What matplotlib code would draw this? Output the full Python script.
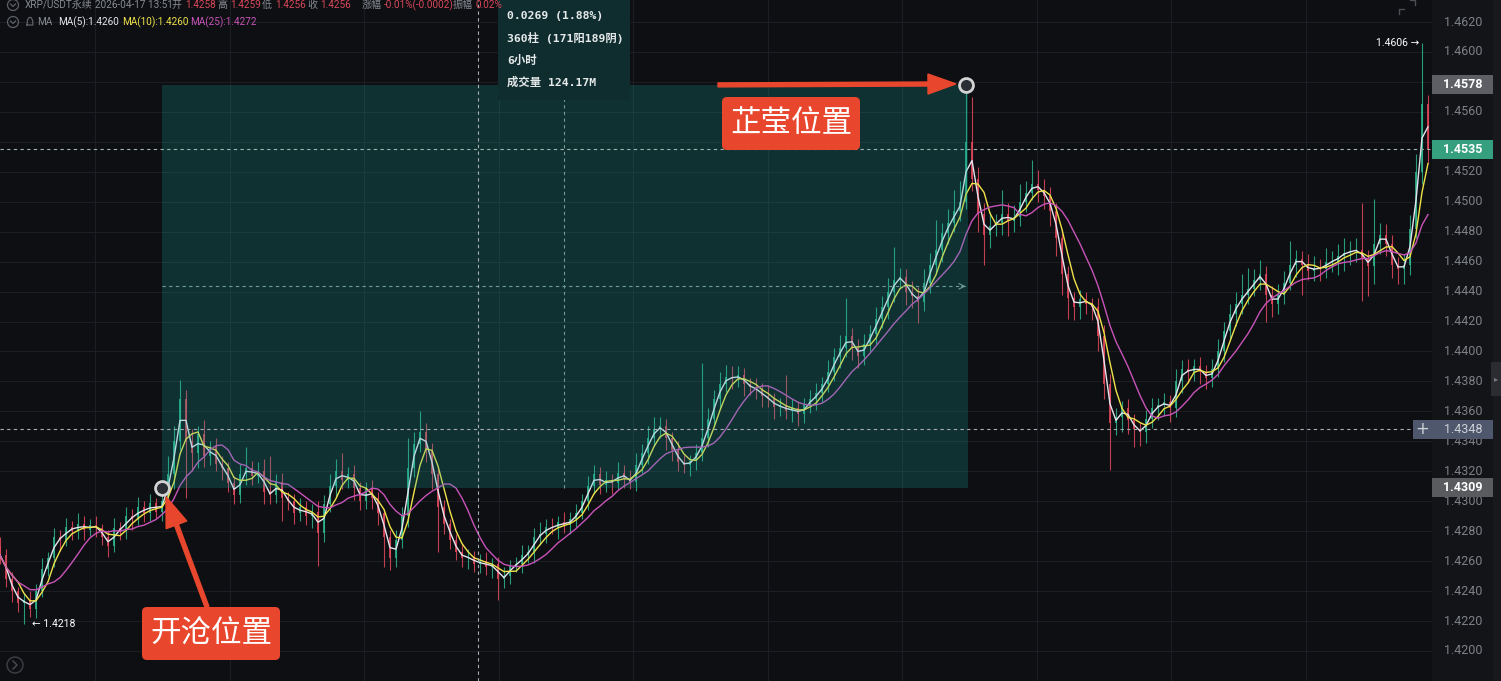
import numpy as np
import pandas as pd
import matplotlib
matplotlib.use("Agg")
import matplotlib.pyplot as plt
from matplotlib.patches import Rectangle, FancyBboxPatch, Circle, FancyArrow
from matplotlib.transforms import Affine2D

plt.rcParams['font.family'] = ['Roboto', 'Noto Sans CJK SC', 'DejaVu Sans']

# ---------------- data (prices in pips above 1.4000) ----------------
BASE = 1.4000
PIP = 0.0001
first_open = 270
close_pips = [
    264, 248, 240, 232, 234, 228, 240, 255, 262, 276,
    274, 283, 280, 285, 281, 284, 282, 276, 270, 282,
    280, 290, 288, 296, 292, 299, 293, 300, 318, 340,
    368, 340, 332, 345, 330, 336, 325, 322, 312, 304,
    318, 322, 317, 320, 306, 304, 313, 302, 300, 292,
    296, 290, 293, 279, 298, 310, 320, 314, 318, 309,
    300, 308, 302, 292, 276, 262, 274, 290, 322, 338,
    346, 334, 318, 296, 285, 274, 266, 262, 263, 258,
    260, 256, 258, 248, 250, 257, 258, 264, 266, 276,
    278, 283, 282, 286, 284, 288, 292, 300, 310, 318,
    311, 314, 312, 319, 315, 313, 324, 332, 342, 348,
    350, 342, 334, 326, 324, 327, 332, 342, 355, 368,
    378, 383, 382, 384, 378, 376, 374, 370, 368, 363,
    364, 360, 362, 358, 364, 368, 372, 378, 386, 396,
    402, 410, 403, 397, 405, 412, 422, 430, 440, 448,
    450, 440, 437, 433, 446, 458, 468, 479, 486, 494,
    500, 540, 515, 492, 478, 484, 486, 492, 487, 490,
    500, 506, 512, 508, 504, 494, 476, 452, 436, 430,
    435, 432, 430, 410, 378, 352, 356, 362, 354, 348,
    346, 355, 362, 364, 366, 362, 380, 388, 386, 390,
    386, 382, 388, 400, 414, 425, 432, 438, 442, 448,
    452, 438, 432, 438, 446, 458, 462, 458, 454, 456,
    455, 460, 460, 464, 466, 467, 468, 462, 457, 472,
    478, 472, 458, 455, 458, 482, 520, 565, 535,
]
upper_wick = [
    6, 4, 5, 3, 4, 6, 5, 7, 4, 6,
    5, 6, 4, 7, 5, 4, 6, 3, 5, 7,
    4, 6, 5, 7, 4, 6, 3, 9, 12, 10,
    13, 6, 8, 5, 9, 4, 6, 5, 4, 5,
    7, 14, 5, 6, 8, 24, 5, 6, 4, 5,
    6, 4, 5, 7, 6, 8, 8, 12, 5, 6,
    4, 5, 6, 4, 3, 5, 7, 6, 20, 8,
    14, 6, 5, 4, 5, 3, 4, 6, 5, 4,
    5, 6, 4, 5, 6, 4, 5, 7, 5, 6,
    8, 5, 6, 4, 7, 5, 6, 5, 7, 6,
    5, 6, 4, 7, 5, 6, 8, 6, 8, 8,
    6, 5, 4, 6, 5, 4, 6, 50, 7, 6,
    8, 8, 7, 6, 5, 4, 6, 5, 7, 4,
    5, 20, 6, 4, 5, 6, 7, 5, 8, 6,
    9, 26, 6, 5, 7, 6, 8, 7, 9, 22,
    6, 5, 7, 6, 9, 8, 20, 7, 9, 14,
    14, 38, 30, 8, 7, 9, 6, 16, 7, 8,
    12, 8, 16, 9, 7, 6, 5, 6, 5, 4,
    6, 5, 4, 6, 8, 7, 6, 5, 6, 4,
    5, 6, 7, 5, 6, 5, 8, 6, 7, 5,
    6, 5, 7, 8, 6, 7, 8, 14, 14, 7,
    9, 5, 6, 7, 8, 16, 6, 5, 7, 8,
    6, 9, 7, 8, 10, 7, 8, 31, 6, 30,
    8, 7, 6, 5, 7, 9, 12, 41, 6,
]
lower_wick = [
    6, 5, 7, 6, 14, 5, 6, 4, 5, 6,
    7, 4, 6, 5, 7, 4, 6, 5, 7, 4,
    6, 5, 7, 4, 6, 5, 4, 6, 8, 10,
    6, 38, 12, 10, 7, 6, 5, 8, 6, 6,
    5, 7, 6, 5, 8, 6, 5, 15, 6, 7,
    5, 6, 8, 22, 6, 5, 7, 6, 5, 8,
    6, 5, 7, 8, 20, 8, 6, 5, 7, 6,
    5, 8, 10, 30, 7, 6, 5, 6, 7, 5,
    6, 5, 7, 14, 6, 5, 4, 6, 5, 7,
    5, 6, 4, 7, 5, 6, 5, 4, 6, 5,
    6, 5, 7, 4, 6, 5, 6, 5, 7, 5,
    6, 8, 7, 6, 5, 7, 6, 5, 6, 5,
    6, 5, 7, 6, 8, 5, 6, 7, 5, 8,
    6, 5, 7, 8, 6, 5, 7, 6, 5, 6,
    7, 6, 9, 8, 6, 5, 7, 6, 8, 7,
    6, 9, 8, 14, 6, 7, 6, 8, 7, 6,
    7, 5, 8, 12, 20, 9, 7, 8, 10, 7,
    6, 7, 5, 8, 9, 10, 12, 14, 14, 9,
    8, 7, 9, 10, 10, 31, 8, 10, 9, 12,
    9, 7, 6, 8, 7, 9, 6, 8, 7, 6,
    8, 7, 6, 5, 7, 6, 8, 7, 6, 5,
    7, 18, 9, 7, 6, 5, 8, 20, 6, 7,
    8, 6, 7, 9, 10, 8, 7, 28, 20, 12,
    7, 8, 9, 10, 10, 7, 6, 8, 9,
]
assert len(close_pips) == len(upper_wick) == len(lower_wick)

price_ticks = [1.4200, 1.4220, 1.4240, 1.4260, 1.4280, 1.4300, 1.4320,
               1.4340, 1.4360, 1.4380, 1.4400, 1.4420, 1.4440, 1.4460,
               1.4480, 1.4500, 1.4520, 1.4540, 1.4560, 1.4580, 1.4600, 1.4620]
ma_names = ["MA(5)", "MA(10)", "MA(25)"]
ma_windows = [2, 4, 9]
ma_header_values = ["1.4260", "1.4260", "1.4272"]

entry_idx, exit_idx = 27, 161
entry_price, exit_price = 1.4309, 1.4578
last_price = 1.4535
cross_price = 1.4348
cross_idx = 79.7
peak_idx, peak_price = 237, 1.4606
trough_idx, trough_price = 4, 1.4218

header_items = [
    ("XRP/USDT永续", "g", 25), ("2026-04-17 13:51", "g", 95),
    ("开", "g", 172), ("1.4258", "r", 185), ("高", "g", 217), ("1.4259", "r", 230),
    ("低", "g", 262), ("1.4256", "r", 275), ("收", "g", 307), ("1.4256", "r", 320),
    ("涨幅", "g", 362), ("-0.01%(-0.0002)", "r", 384), ("振幅", "g", 453), ("0.02%", "r", 476),
]
info_lines = ["0.0269 (1.88%)", "360柱 (171阳189阴)", "6小时", "成交量 124.17M"]
label_exit = "芷莹位置"
label_entry = "开沧位置"

# ---------------- styling / geometry ----------------
W, H = 1501, 681
PX_PER_BAR = 6.0
Y_TOP_PRICE, Y_TOP_PX, PX_PER_PRICE = 1.4620, 22.0, 14976.0
CHART_RIGHT = 1432
BG = '#0e0f12'
PANEL = '#131417'
GREEN = '#2fb58c'
RED = '#e0485c'
ORANGE = '#e8472e'
GRAY = '#878b92'
HRED = '#d9485a'
MA_COLORS = ['#e4e4ee', '#efe24a', '#c853b9']

ymax = Y_TOP_PRICE + Y_TOP_PX / PX_PER_PRICE
ymin = ymax - H / PX_PER_PRICE

def px_of(i, p):
    return i * PX_PER_BAR, Y_TOP_PX + (Y_TOP_PRICE - p) * PX_PER_PRICE

fig = plt.figure(figsize=(W / 100, H / 100), dpi=100, facecolor=BG)
ax = fig.add_axes([0, 0, 1, 1])
ax.set_xlim(0, W / PX_PER_BAR)
ax.set_ylim(ymin, ymax)
ax.axis('off')
PIXT = Affine2D().scale(1, -1).translate(0, H)
xr = CHART_RIGHT / PX_PER_BAR

# grid
for p in price_ticks:
    ax.plot([0, xr], [p, p], color='#1c1e23', lw=0.8, zorder=0.5)
for k in range(10):
    gx = (95 + 134.5 * k) / PX_PER_BAR
    ax.plot([gx, gx], [ymin, ymax], color='#1c1e23', lw=0.8, zorder=0.5)

# candles
n = len(close_pips)
idx = np.arange(n)
close = BASE + np.array(close_pips) * PIP
open_ = BASE + np.array([first_open] + close_pips[:-1]) * PIP
body_top = np.maximum(open_, close)
body_bot = np.minimum(open_, close)
high = body_top + np.array(upper_wick) * PIP
low = body_bot - np.array(lower_wick) * PIP
cols = np.where(close >= open_, GREEN, RED)
ax.vlines(idx, low, high, colors=cols, linewidth=0.8, alpha=0.85, zorder=3)
ax.bar(idx, np.maximum(body_top - body_bot, 0.6 * PIP), bottom=body_bot,
       width=0.45, color=cols, alpha=0.85, linewidth=0, zorder=3)

# moving averages
s = pd.Series(close)
for win, col in zip(ma_windows, MA_COLORS):
    ax.plot(idx, s.rolling(win, min_periods=1).mean(), color=col, lw=1.0, zorder=4)

# measurement rectangle (overlay)
ax.add_patch(Rectangle((entry_idx, entry_price), exit_idx + 0.3 - entry_idx,
                       exit_price - entry_price, facecolor='#17aaa5', alpha=0.22,
                       edgecolor='none', zorder=5))
mid_p = (entry_price + exit_price) / 2
mid_i = (entry_idx + exit_idx) / 2
ax.plot([entry_idx, exit_idx], [mid_p, mid_p], color='#6f9c99', lw=0.8,
        dashes=(3, 3), zorder=6)
ax.annotate('', xy=(exit_idx + 0.4, mid_p), xytext=(exit_idx - 1.2, mid_p),
            arrowprops=dict(arrowstyle='->', color='#6f9c99', lw=0.8), zorder=6)
ax.plot([mid_i, mid_i], [entry_price, exit_price], color='#6f9c99', lw=0.8,
        dashes=(3, 3), zorder=6)

# crosshair + last price lines
ax.plot([0, 1413 / PX_PER_BAR], [cross_price, cross_price], color='#a9acb2',
        lw=0.8, dashes=(3, 3), zorder=6)
ax.plot([cross_idx, cross_idx], [ymin, ymax], color='#a9acb2', lw=0.8,
        dashes=(3, 3), zorder=6)
ax.plot([0, xr], [last_price, last_price], color='#9fb5ae', lw=0.8,
        dashes=(3, 3), zorder=6)

# info box
mx, _ = px_of(mid_i, mid_p)
ax.add_patch(Rectangle((mx - 66, 0), 132, 100, transform=PIXT, facecolor='#0f2c2f',
                       edgecolor='none', zorder=7, clip_on=False))
for k, line in enumerate(info_lines):
    ax.text(mx - 57, 16 + 22 * k, line, transform=PIXT, ha='left', va='center',
            fontsize=8.2, fontweight='bold', color='#e6eaea',
            family=['DejaVu Sans Mono', 'Noto Sans CJK SC'], zorder=8)

# entry / exit markers
for (i, p) in [(entry_idx, entry_price), (exit_idx, exit_price)]:
    ax.plot([i], [p], 'o', ms=10, mfc='#2a2d33', mec='#d3d3d3', mew=2, zorder=9)

# arrows
ex, ey = px_of(exit_idx, exit_price)
ax.add_patch(FancyArrow(718, ey, (ex - 10) - 718, -1, width=4, head_width=20,
                        head_length=28, length_includes_head=True, color=ORANGE,
                        transform=PIXT, zorder=9, clip_on=False))
nx_, ny_ = px_of(entry_idx, entry_price)
tipx, tipy = nx_ + 4, ny_ + 9
ax.add_patch(FancyArrow(207, 607, tipx - 207, tipy - 607, width=4, head_width=22,
                        head_length=30, length_includes_head=True, color=ORANGE,
                        transform=PIXT, zorder=9, clip_on=False))

# labelled boxes
for (bx, by, txt) in [(722, 97, label_exit), (142, 607, label_entry)]:
    ax.add_patch(FancyBboxPatch((bx, by), 138, 53,
                                boxstyle='round,pad=0,rounding_size=5',
                                transform=PIXT, facecolor=ORANGE, edgecolor='none',
                                zorder=10, clip_on=False))
    ax.text(bx + 69, by + 27, txt, transform=PIXT, ha='center', va='center',
            fontsize=22, color='white', family=['Noto Sans CJK SC'], zorder=11)

# extreme labels
px_, py_ = px_of(peak_idx, peak_price)
ax.text(px_ - 3, py_, f"{peak_price:.4f} →", transform=PIXT, ha='right', va='center',
        fontsize=7.5, color='white', family=['Roboto', 'DejaVu Sans'], zorder=8)
tx_, ty_ = px_of(trough_idx, trough_price)
ax.text(tx_ + 8, ty_, f"← {trough_price:.4f}", transform=PIXT, ha='left', va='center',
        fontsize=7.5, color='white', family=['Roboto', 'DejaVu Sans'], zorder=8)

# right price panel
ax.add_patch(Rectangle((CHART_RIGHT, 0), 61, H, transform=PIXT, facecolor=PANEL,
                       edgecolor='none', zorder=12, clip_on=False))
ax.add_patch(Rectangle((1493, 0), 8, H, transform=PIXT, facecolor='#18191d',
                       edgecolor='none', zorder=12, clip_on=False))
ax.add_patch(Rectangle((1491, 362), 10, 34, transform=PIXT, facecolor='#2a2c31',
                       edgecolor='none', zorder=13, clip_on=False))
ax.text(1496, 379, '▸', transform=PIXT, ha='center', va='center', fontsize=6,
        color='#777b82', family=['DejaVu Sans'], zorder=14)

box_prices = [exit_price, last_price, cross_price, entry_price]
for p in price_ticks:
    # labels fully covered by a highlighted price box are not drawn
    if min(abs(p - b) for b in box_prices) < 0.0007:
        continue
    _, ty = px_of(0, p)
    ax.text(1463, ty, f"{p:.4f}", transform=PIXT, ha='center', va='center',
            fontsize=9, color='#7d8087', zorder=13)

def price_box(p, fc, tc, bold=True):
    _, by = px_of(0, p)
    ax.add_patch(Rectangle((CHART_RIGHT, by - 9.5), 61, 19, transform=PIXT,
                           facecolor=fc, edgecolor='none', zorder=14, clip_on=False))
    ax.text(1463, by, f"{p:.4f}", transform=PIXT, ha='center', va='center',
            fontsize=9, color=tc, fontweight='bold' if bold else 'normal', zorder=15)

price_box(exit_price, '#5d5f64', 'white')
price_box(last_price, '#36a07e', 'white')
price_box(cross_price, '#4e576b', '#cdd1d8', bold=False)
price_box(entry_price, '#5a5b5f', 'white')
_, cy = px_of(0, cross_price)
ax.add_patch(Rectangle((1413, cy - 9.5), 19, 19, transform=PIXT, facecolor='#4e576b',
                       edgecolor='none', zorder=14, clip_on=False))
ax.text(1422.5, cy, '+', transform=PIXT, ha='center', va='center', fontsize=12,
        color='#cdd1d8', family=['DejaVu Sans'], zorder=15)

# header
for txt, c, x in header_items:
    ax.text(x, 5, txt, transform=PIXT, ha='left', va='center', fontsize=7.2,
            color=GRAY if c == 'g' else HRED, zorder=16)
ax.text(37, 22, "MA", transform=PIXT, ha='left', va='center', fontsize=7.2,
        color=GRAY, zorder=16)
mx0 = [58, 122, 190]
for name, val, col, x in zip(ma_names, ma_header_values, MA_COLORS, mx0):
    ax.text(x, 22, f"{name}:{val}", transform=PIXT, ha='left', va='center',
            fontsize=7.2, color=col, zorder=16)

# small chrome icons
for cy_ in (5, 22):
    ax.add_patch(Circle((13, cy_), 5.5, transform=PIXT, facecolor='none',
                        edgecolor='#5d6067', lw=0.9, zorder=16, clip_on=False))
    ax.plot([10.5, 13, 15.5], [cy_ - 1, cy_ + 1.5, cy_ - 1], transform=PIXT,
            color='#5d6067', lw=0.9, zorder=16, clip_on=False)
ax.plot([27, 27.5, 29, 31, 32.5, 33, 27], [25, 20, 17.5, 17.5, 20, 25, 25],
        transform=PIXT, color='#5d6067', lw=0.9, zorder=16, clip_on=False)
ax.add_patch(Circle((15, 665), 8, transform=PIXT, facecolor='none', edgecolor='#3d4046',
                    lw=1.0, zorder=16, clip_on=False))
ax.plot([13, 17, 13], [661, 665, 669], transform=PIXT, color='#4a4d53', lw=1.0,
        zorder=16, clip_on=False)
ax.plot([1399, 1399, 1404], [14, 9, 9], transform=PIXT, color='#4a4d53', lw=1.0,
        zorder=16, clip_on=False)
ax.plot([1410, 1415, 1415], [0, 0, 5], transform=PIXT, color='#4a4d53', lw=1.0,
        zorder=16, clip_on=False)

fig.savefig("out.png", dpi=100, facecolor=BG)
